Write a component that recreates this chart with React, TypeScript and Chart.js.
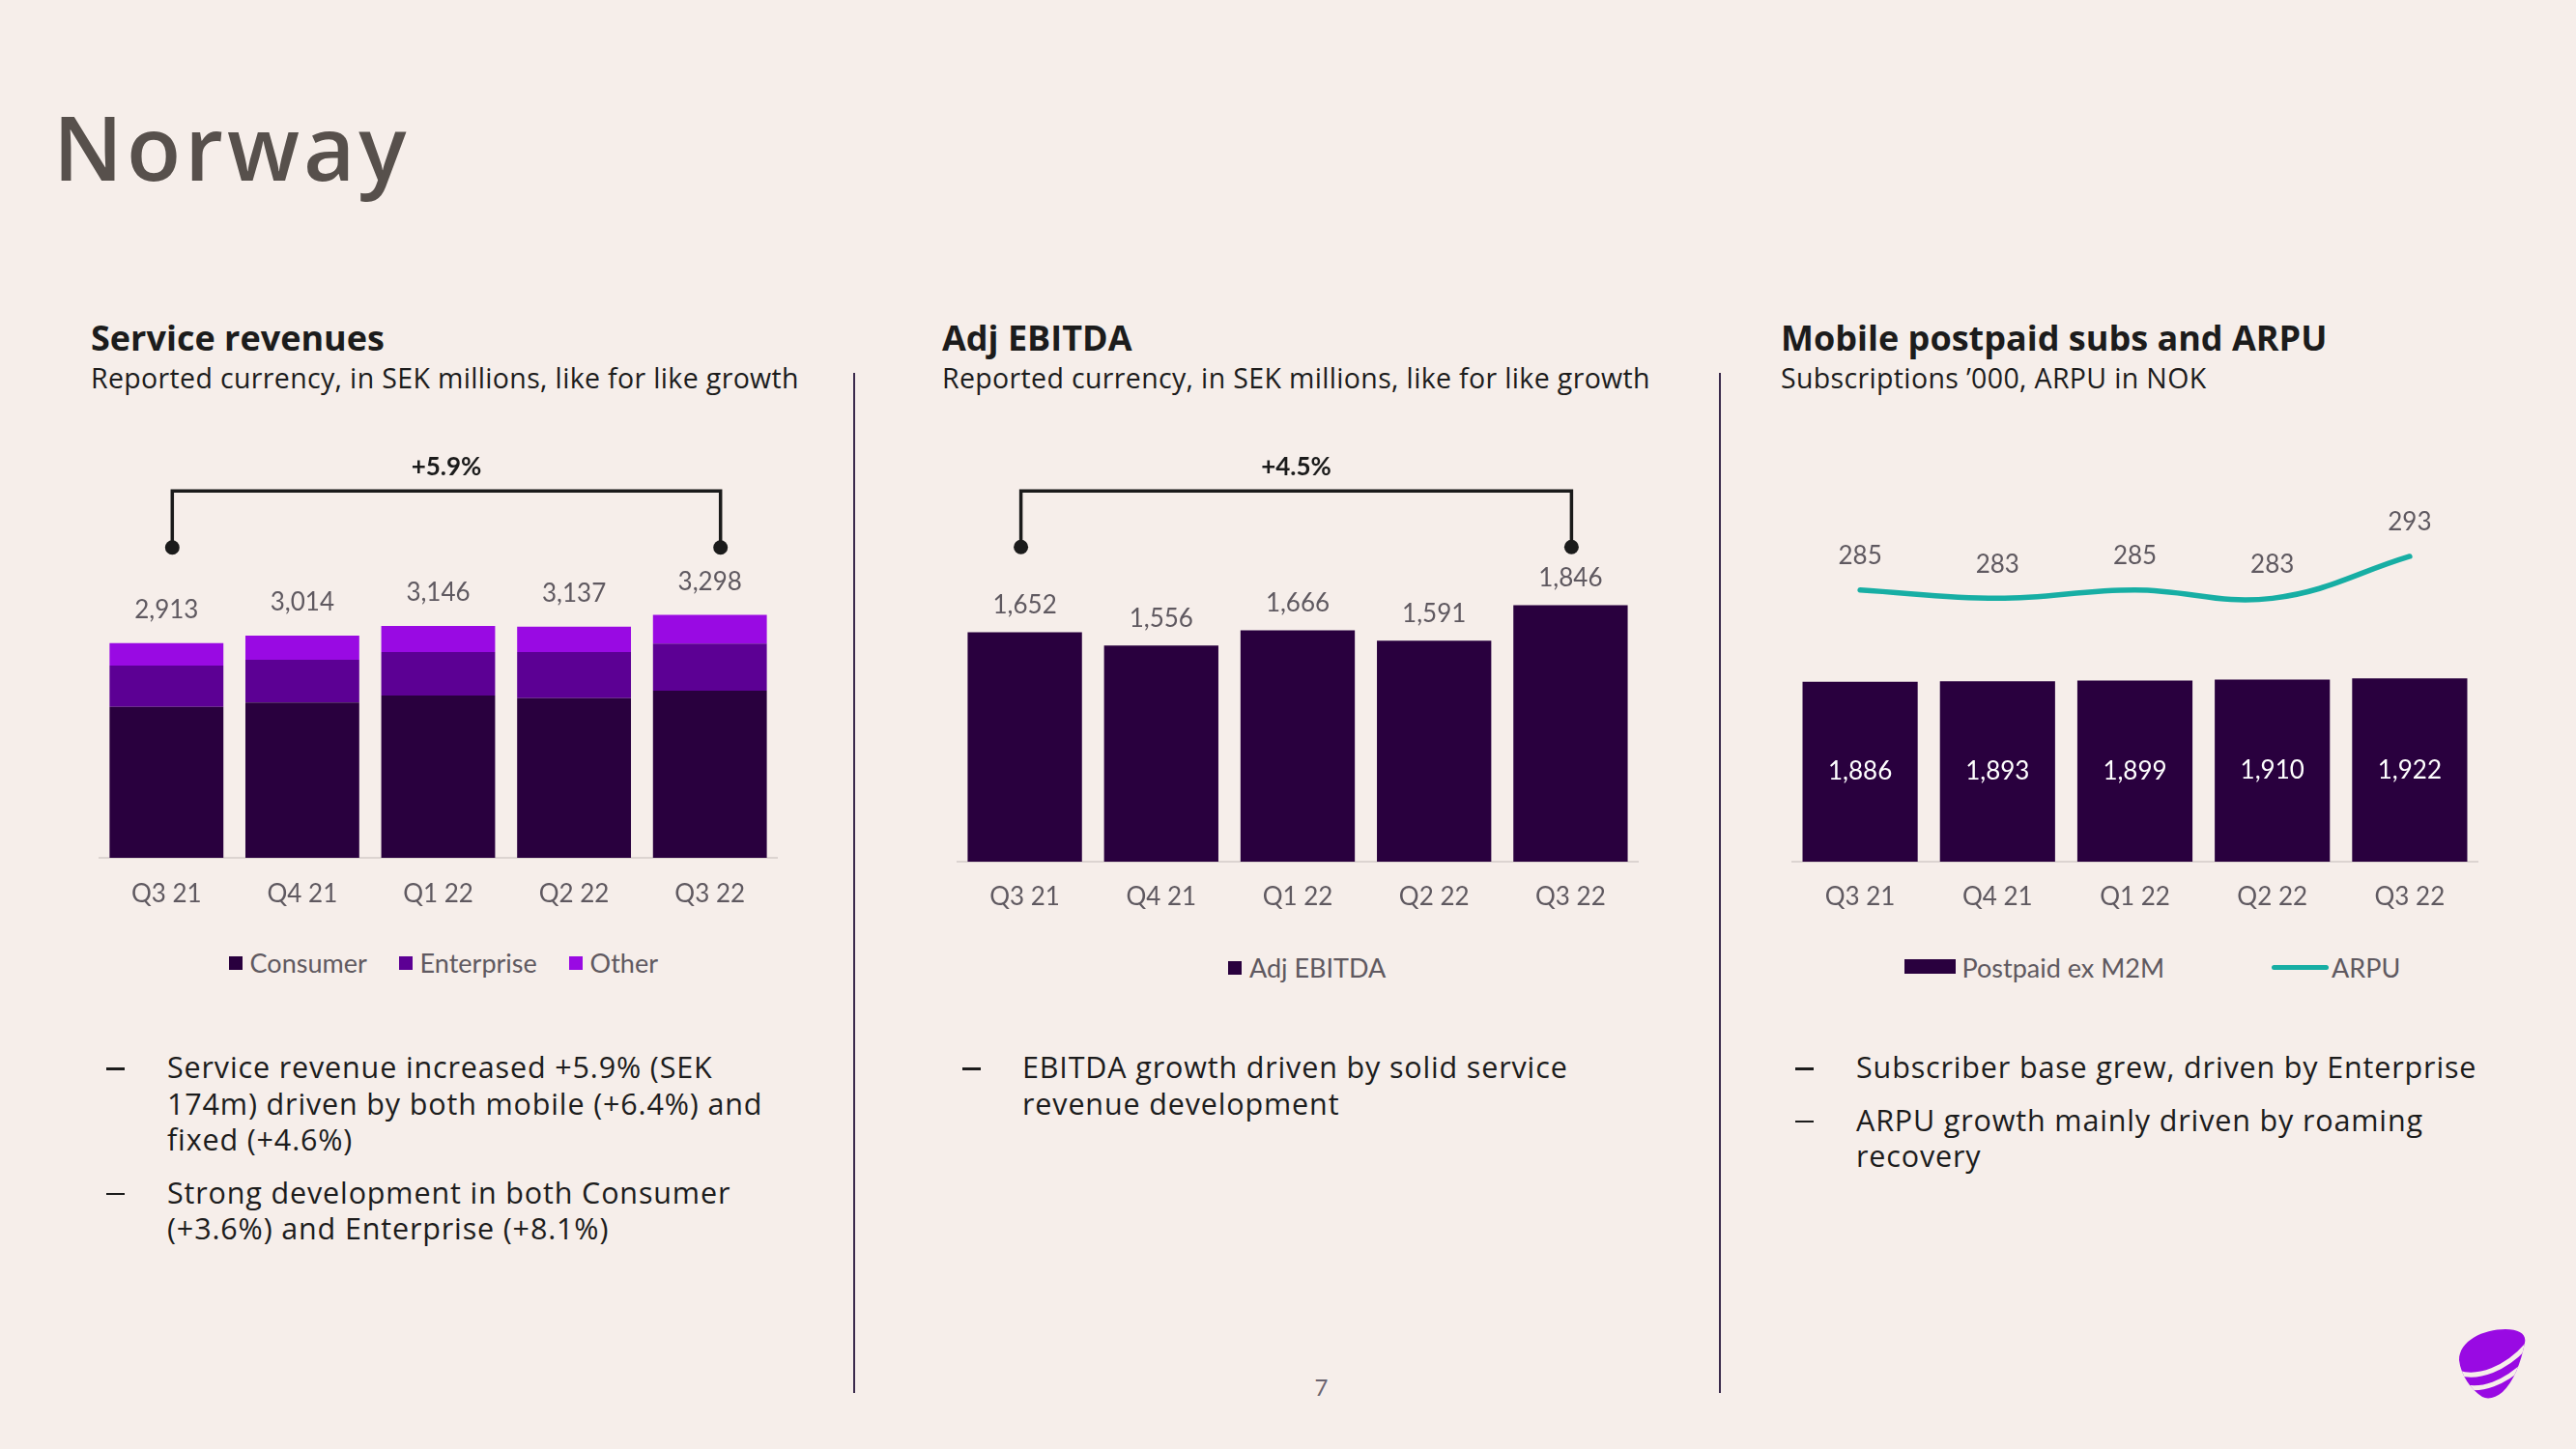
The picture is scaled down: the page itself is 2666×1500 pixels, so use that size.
import React, { useEffect, useRef } from "react";
import { Chart, registerables } from "chart.js";

Chart.register(...registerables);

// ---------- data ----------
const quarters = ["Q3 21", "Q4 21", "Q1 22", "Q2 22", "Q3 22"];

const serviceConsumer = [2048, 2106, 2202, 2166, 2267];
const serviceEnterprise = [561, 581, 590, 625, 641];
const serviceOther = [304, 327, 354, 346, 390];
const serviceTotals = [2913, 3014, 3146, 3137, 3298];
const serviceGrowth = "+5.9%";

const adjEbitda = [1652, 1556, 1666, 1591, 1846];
const ebitdaGrowth = "+4.5%";

const postpaidSubs = [1886, 1893, 1899, 1910, 1922];
const arpuNok = [285, 283, 285, 283, 293];

// ---------- styles ----------
const BG = "#F6EEEA";
const C_CONSUMER = "#29003E";
const C_ENTERPRISE = "#5C0094";
const C_OTHER = "#990AE3";
const C_TEAL = "#17AEA4";
const C_LABEL = "#5f5960";
const C_AXIS = "#DCD4D1";
const C_TEXT = "#1c1c1c";
const CHART_FONT = "Lato";
const TEXT_FONT = "'Open Sans', sans-serif";

const fmt = (v: number) => v.toLocaleString("en-US");

type LabelItem = {
  datasetIndex: number;
  labels: string[];
  mode: "above" | "center";
  dy: number;
  color: string;
  size: number;
};

function makeLabelPlugin(items: LabelItem[]) {
  return {
    id: "valueLabels",
    afterDatasetsDraw(chart: any) {
      const ctx = chart.ctx;
      ctx.save();
      for (const it of items) {
        const meta = chart.getDatasetMeta(it.datasetIndex);
        meta.data.forEach((el: any, i: number) => {
          const y = it.mode === "center" ? (el.y + el.base) / 2 : el.y + it.dy;
          ctx.font = `400 ${it.size}px ${CHART_FONT}`;
          ctx.fillStyle = it.color;
          ctx.textAlign = "center";
          ctx.textBaseline = "middle";
          ctx.fillText(it.labels[i], el.x, y);
        });
      }
      ctx.restore();
    },
  };
}

type BracketCfg = {
  from: number;
  to: number;
  dxFrom: number;
  dxTo: number;
  textOffset: number;
  lineOffset: number;
  dotOffset: number;
  text: string;
};

function makeBracketPlugin(b: BracketCfg) {
  return {
    id: "growthBracket",
    afterDatasetsDraw(chart: any) {
      const ctx = chart.ctx;
      const xs = chart.scales.x;
      const top = chart.chartArea.top;
      const x1 = xs.getPixelForValue(b.from) + b.dxFrom;
      const x2 = xs.getPixelForValue(b.to) + b.dxTo;
      const yl = top + b.lineOffset;
      const yd = top + b.dotOffset;
      ctx.save();
      ctx.strokeStyle = "#1b1b1b";
      ctx.fillStyle = "#1b1b1b";
      ctx.lineWidth = 3.5;
      ctx.lineJoin = "miter";
      ctx.beginPath();
      ctx.moveTo(x1, yd);
      ctx.lineTo(x1, yl);
      ctx.lineTo(x2, yl);
      ctx.lineTo(x2, yd);
      ctx.stroke();
      for (const x of [x1, x2]) {
        ctx.beginPath();
        ctx.arc(x, yd, 7.5, 0, Math.PI * 2);
        ctx.fill();
      }
      ctx.font = `700 26px ${CHART_FONT}`;
      ctx.textAlign = "center";
      ctx.textBaseline = "middle";
      ctx.fillText(b.text, (x1 + x2) / 2, top + b.textOffset);
      ctx.restore();
    },
  };
}

const xScale = (stacked: boolean, pad: number) => ({
  stacked,
  grid: { display: false, drawTicks: false },
  border: { display: true, color: C_AXIS, width: 2 },
  ticks: { color: C_LABEL, font: { family: CHART_FONT, size: 26 }, padding: pad },
  afterFit: (s: any) => {
    s.height = 70;
  },
});

const baseOptions = {
  responsive: false,
  animation: false as const,
  devicePixelRatio: 1,
  layout: { padding: 0 },
  plugins: { legend: { display: false }, tooltip: { enabled: false } },
};

const barDs = (label: string, data: number[], color: string) => ({
  type: "bar" as const,
  label,
  data,
  backgroundColor: color,
  borderWidth: 0,
  barPercentage: 0.838,
  categoryPercentage: 1,
});

function serviceConfig(): any {
  return {
    type: "bar",
    data: {
      labels: quarters,
      datasets: [
        barDs("Consumer", serviceConsumer, C_CONSUMER),
        barDs("Enterprise", serviceEnterprise, C_ENTERPRISE),
        barDs("Other", serviceOther, C_OTHER),
      ],
    },
    options: {
      ...baseOptions,
      scales: {
        x: xScale(true, 22),
        y: { display: false, stacked: true, min: 0, max: 5872 },
      },
    },
    plugins: [
      makeLabelPlugin([
        { datasetIndex: 2, labels: serviceTotals.map(fmt), mode: "above", dy: -34, color: C_LABEL, size: 26 },
      ]),
      makeBracketPlugin({ from: 0, to: 4, dxFrom: 6, dxTo: 11, textOffset: 43.3, lineOffset: 68.3, dotOffset: 126.7, text: serviceGrowth }),
    ],
  };
}

function ebitdaConfig(): any {
  return {
    type: "bar",
    data: {
      labels: quarters,
      datasets: [barDs("Adj EBITDA", adjEbitda, C_CONSUMER)],
    },
    options: {
      ...baseOptions,
      scales: {
        x: xScale(false, 21),
        y: { display: false, min: 0, max: 3143 },
      },
    },
    plugins: [
      makeLabelPlugin([
        { datasetIndex: 0, labels: adjEbitda.map(fmt), mode: "above", dy: -27.5, color: C_LABEL, size: 26 },
      ]),
      makeBracketPlugin({ from: 0, to: 4, dxFrom: -4, dxTo: 1, textOffset: 43.3, lineOffset: 68.3, dotOffset: 126.3, text: ebitdaGrowth }),
    ],
  };
}

function postpaidConfig(): any {
  return {
    type: "bar",
    data: {
      labels: quarters,
      datasets: [
        {
          type: "line",
          label: "ARPU",
          data: arpuNok,
          yAxisID: "y2",
          borderColor: C_TEAL,
          borderWidth: 5.5,
          borderCapStyle: "round",
          tension: 0.4,
          pointRadius: 0,
          fill: false,
        },
        { ...barDs("Postpaid ex M2M", postpaidSubs, C_CONSUMER), yAxisID: "y" },
      ],
    },
    options: {
      ...baseOptions,
      scales: {
        x: xScale(false, 21),
        y: { display: false, min: 0, max: 4580 },
        y2: { display: false, min: 220.15, max: 324.35 },
      },
    },
    plugins: [
      makeLabelPlugin([
        { datasetIndex: 1, labels: postpaidSubs.map(fmt), mode: "center", dy: 0, color: "#ffffff", size: 26 },
        { datasetIndex: 0, labels: arpuNok.map(fmt), mode: "above", dy: -35, color: C_LABEL, size: 26 },
      ]),
    ],
  };
}

function ChartBox(props: { left: number; top: number; width: number; height: number; config: () => any }) {
  const ref = useRef<HTMLCanvasElement | null>(null);
  useEffect(() => {
    if (!ref.current) return;
    const chart = new Chart(ref.current, props.config());
    return () => chart.destroy();
  }, []);
  return (
    <canvas
      ref={ref}
      width={props.width}
      height={props.height}
      style={{ position: "absolute", left: props.left, top: props.top, width: props.width, height: props.height }}
    />
  );
}

const abs = (left: number, top: number, extra: React.CSSProperties = {}): React.CSSProperties => ({
  position: "absolute",
  left,
  top,
  whiteSpace: "nowrap",
  ...extra,
});

function Title(props: { left: number; title: string; sub: string }) {
  return (
    <>
      <div style={abs(props.left, 331.5, { fontFamily: TEXT_FONT, fontSize: 36, lineHeight: "36px", fontWeight: 700, color: C_TEXT })}>
        {props.title}
      </div>
      <div style={abs(props.left, 376.5, { fontFamily: TEXT_FONT, fontSize: 28.5, lineHeight: "28.5px", fontWeight: 400, color: C_TEXT, letterSpacing: 0.35 })}>
        {props.sub}
      </div>
    </>
  );
}

function Bullet(props: { dashLeft: number; textLeft: number; top: number; lines: string[] }) {
  const st: React.CSSProperties = { fontFamily: TEXT_FONT, fontSize: 30.5, lineHeight: "37.5px", color: C_TEXT, letterSpacing: 0.85 };
  return (
    <>
      <div style={{ position: "absolute", left: props.dashLeft, top: props.top + 19, width: 19, height: 2.5, background: C_TEXT }} />
      <div style={abs(props.textLeft, props.top, st)}>
        {props.lines.map((l, i) => (
          <div key={i}>{l}</div>
        ))}
      </div>
    </>
  );
}

function LegendText(props: { left: number; centerY: number; text: string }) {
  const F = 27;
  return (
    <div style={abs(props.left, props.centerY - 0.5285 * F, { fontFamily: CHART_FONT, fontSize: F, lineHeight: `${F}px`, color: C_LABEL })}>
      {props.text}
    </div>
  );
}

function Box(props: { left: number; top: number; w: number; h: number; color: string; radius?: number }) {
  return (
    <div
      style={{
        position: "absolute",
        left: props.left,
        top: props.top,
        width: props.w,
        height: props.h,
        background: props.color,
        borderRadius: props.radius || 0,
      }}
    />
  );
}

export default function App() {
  return (
    <div style={{ position: "absolute", left: 0, top: 0, width: 2666, height: 1500, background: BG, overflow: "hidden" }}>
      <div style={abs(55, 106, { fontFamily: TEXT_FONT, fontSize: 92, lineHeight: "92px", fontWeight: 600, color: "#57504c", letterSpacing: 4 })}>
        Norway
      </div>

      <Title left={94} title="Service revenues" sub="Reported currency, in SEK millions, like for like growth" />
      <Title left={975} title="Adj EBITDA" sub="Reported currency, in SEK millions, like for like growth" />
      <Title left={1843} title="Mobile postpaid subs and ARPU" sub="Subscriptions ’000, ARPU in NOK" />

      <Box left={883} top={386} w={2} h={1056} color="#3a2a4c" />
      <Box left={1779} top={386} w={2} h={1056} color="#3a2a4c" />

      <ChartBox left={102} top={440} width={703} height={518} config={serviceConfig} />
      <ChartBox left={990} top={440} width={706} height={522} config={ebitdaConfig} />
      <ChartBox left={1854} top={440} width={711} height={522} config={postpaidConfig} />

      {/* legends */}
      <Box left={237} top={990} w={14} h={14} color={C_CONSUMER} />
      <LegendText left={258.6} centerY={997} text="Consumer" />
      <Box left={413} top={990} w={14} h={14} color={C_ENTERPRISE} />
      <LegendText left={434.6} centerY={997} text="Enterprise" />
      <Box left={589} top={990} w={14} h={14} color={C_OTHER} />
      <LegendText left={610.6} centerY={997} text="Other" />

      <Box left={1271} top={995} w={14} h={14} color={C_CONSUMER} />
      <LegendText left={1293} centerY={1002} text="Adj EBITDA" />

      <Box left={1971} top={993} w={53} h={15} color={C_CONSUMER} />
      <LegendText left={2030.5} centerY={1002} text="Postpaid ex M2M" />
      <Box left={2351} top={998.5} w={59} h={5} color={C_TEAL} radius={3} />
      <LegendText left={2413} centerY={1002} text="ARPU" />

      {/* bullets */}
      <Bullet
        dashLeft={110}
        textLeft={173}
        top={1086.3}
        lines={["Service revenue increased +5.9% (SEK", "174m) driven by both mobile (+6.4%) and", "fixed (+4.6%)"]}
      />
      <Bullet dashLeft={110} textLeft={173} top={1215.6} lines={["Strong development in both Consumer", "(+3.6%) and Enterprise (+8.1%)"]} />
      <Bullet dashLeft={996} textLeft={1058} top={1086.3} lines={["EBITDA growth driven by solid service", "revenue development"]} />
      <Bullet dashLeft={1858} textLeft={1921} top={1086.3} lines={["Subscriber base grew, driven by Enterprise"]} />
      <Bullet dashLeft={1858} textLeft={1921} top={1140.6} lines={["ARPU growth mainly driven by roaming", "recovery"]} />

      {/* page number */}
      <div style={abs(1360, 1424, { fontFamily: CHART_FONT, fontSize: 24, lineHeight: "24px", color: "#6b6470", width: 15, textAlign: "center" })}>
        7
      </div>

      {/* logo */}
      <svg style={{ position: "absolute", left: 2545, top: 1376 }} width={72} height={74} viewBox="0 0 72 74">
        <defs>
          <clipPath id="pebble">
            <path d="M 0,32 C 0,12 25,0 48,0 C 62,0 70,5 68,14 C 64,35 56,55 45,65 C 38,71 30,73 24,70 C 12,62 2,48 0,32 Z" />
          </clipPath>
        </defs>
        <g clipPath="url(#pebble)">
          <rect x={-5} y={-5} width={82} height={84} fill={C_OTHER} />
          <path d="M -4,44 C 18,53 50,42 74,12" stroke={BG} strokeWidth={5} fill="none" />
          <path d="M 0,58 C 22,66 48,56 72,32" stroke={BG} strokeWidth={5} fill="none" />
        </g>
      </svg>
    </div>
  );
}
